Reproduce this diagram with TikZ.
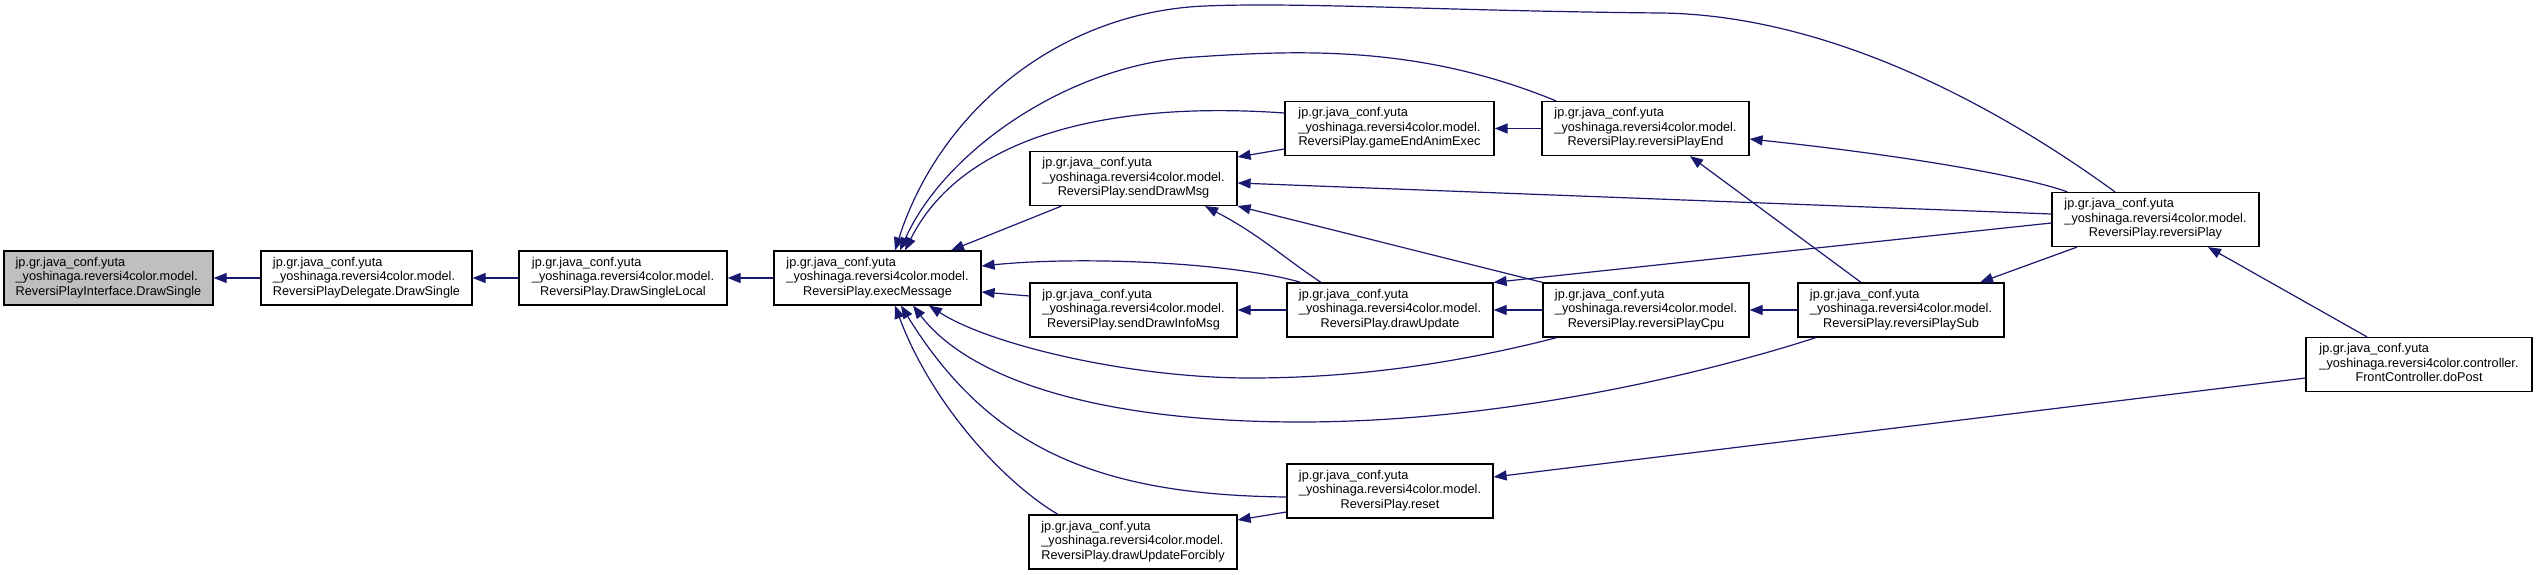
\documentclass[tikz,border=0pt]{standalone}
\usepackage{fontspec}
\setmainfont{Liberation Sans}
\usetikzlibrary{arrows.meta}
\definecolor{edgeblue}{HTML}{191970}
\definecolor{nodegray}{HTML}{BFBFBF}
\newcommand{\dlab}[3]{\begin{tabular}{@{}c@{}}\multicolumn{1}{@{}l@{}}{#1}\\\multicolumn{1}{@{}l@{}}{#2}\\#3\end{tabular}}
\newcommand{\pa}{jp.gr.java\_conf.yuta}
\newcommand{\pb}{\_yoshinaga.reversi4color.model.}
\begin{document}
\begin{tikzpicture}[x=1pt,y=-1pt,
  fn/.style={draw=black, line width=1.2pt, fill=white, rectangle, inner sep=0pt, minimum height=54pt, font=\fontsize{12.7}{14.5}\selectfont},
  cur/.style={fn, fill=nodegray},
  edge/.style={draw=edgeblue, line width=1.2pt, -{Triangle[length=13pt,width=10pt]}}]
\useasboundingbox[fill=white] (0,0) rectangle (2537,575);

\node[cur, minimum width=209pt] (n0) at (108.5,278) {\dlab{\pa}{\pb}{ReversiPlayInterface.DrawSingle}};
\node[fn, minimum width=211pt] (n1) at (366.5,278) {\dlab{\pa}{\pb}{ReversiPlayDelegate.DrawSingle}};
\node[fn, minimum width=208pt] (n2) at (623,278) {\dlab{\pa}{\pb}{ReversiPlay.DrawSingleLocal}};
\node[fn, minimum width=207pt] (exec) at (877.5,278) {\dlab{\pa}{\pb}{ReversiPlay.execMessage}};
\node[fn, minimum width=207pt] (sdm) at (1133.5,178.5) {\dlab{\pa}{\pb}{ReversiPlay.sendDrawMsg}};
\node[fn, minimum width=207pt] (sdim) at (1133.5,310) {\dlab{\pa}{\pb}{ReversiPlay.sendDrawInfoMsg}};
\node[fn, minimum width=208pt] (dufor) at (1133,542) {\dlab{\pa}{\pb}{ReversiPlay.drawUpdateForcibly}};
\node[fn, minimum width=209pt] (geae) at (1389.5,128.5) {\dlab{\pa}{\pb}{ReversiPlay.gameEndAnimExec}};
\node[fn, minimum width=206pt] (du) at (1390,310) {\dlab{\pa}{\pb}{ReversiPlay.drawUpdate}};
\node[fn, minimum width=206pt] (reset) at (1390,491) {\dlab{\pa}{\pb}{ReversiPlay.reset}};
\node[fn, minimum width=207pt] (rpe) at (1645.5,128.5) {\dlab{\pa}{\pb}{ReversiPlay.reversiPlayEnd}};
\node[fn, minimum width=206pt] (rpc) at (1646,310) {\dlab{\pa}{\pb}{ReversiPlay.reversiPlayCpu}};
\node[fn, minimum width=206pt] (rps) at (1901,310) {\dlab{\pa}{\pb}{ReversiPlay.reversiPlaySub}};
\node[fn, minimum width=207pt] (rp) at (2155.5,219.5) {\dlab{\pa}{\pb}{ReversiPlay.reversiPlay}};
\node[fn, minimum width=226pt] (dopost) at (2419,364.5) {\dlab{\pa}{\_yoshinaga.reversi4color.controller.}{FrontController.doPost}};

\draw[edge] (n1.west) -- (n0.east);
\draw[edge] (n2.west) -- (n1.east);
\draw[edge] (exec.west) -- (n2.east);
\draw[edge] ([xshift=32pt]sdm.south west) -- ([xshift=73.5pt]exec.north);
\draw[edge] ([yshift=14pt]sdim.west) -- ([yshift=-14pt]exec.east);
\draw[edge] ([xshift=-89pt]du.north) .. controls (1230,262) and (1080,256) .. ([yshift=12pt]exec.east);
\draw[edge] ([yshift=15.5pt]geae.west) .. controls (1100,100) and (960,140) .. ([xshift=27.5pt]exec.north);
\draw[edge] ([xshift=-89.5pt]rpe.north) .. controls (1420,45) and (1300,50) .. (1195,57) .. controls (1070,64) and (945,150) .. ([xshift=22.5pt]exec.north);
\draw[edge] ([xshift=-40.5pt]rp.north) .. controls (2030,130) and (1850,15) .. (1660,13) .. controls (1450,11) and (1300,2) .. (1205,6) .. controls (1060,12) and (940,110) .. ([xshift=17.5pt]exec.north);
\draw[edge] ([xshift=-89pt]rpc.south) .. controls (1450,365) and (1350,378) .. (1250,378) .. controls (1130,378) and (990,345) .. ([xshift=51.5pt]exec.south);
\draw[edge] ([xshift=-85pt]rps.south) .. controls (1700,375) and (1500,422) .. (1300,422) .. controls (1100,422) and (970,380) .. ([xshift=35.5pt]exec.south);
\draw[edge] ([yshift=-6pt]reset.west) .. controls (1100,495) and (990,450) .. ([xshift=23.5pt]exec.south);
\draw[edge] ([xshift=-75pt]dufor.north) .. controls (1000,480) and (930,400) .. ([xshift=17.5pt]exec.south);

\draw[edge] ([yshift=-20.5pt]geae.west) -- ([yshift=21.5pt]sdm.east);
\draw[edge] ([yshift=5.5pt]rp.west) -- ([yshift=-4.5pt]sdm.east);
\draw[edge] (rpc.north west) -- (sdm.south east);
\draw[edge] ([xshift=-69pt]du.north) .. controls (1280,255) and (1260,235) .. ([xshift=71.5pt]sdm.south);
\draw[edge] (du.west) -- (sdim.east);
\draw[edge] (rpe.west) -- (geae.east);
\draw[edge] (rpc.west) -- (du.east);
\draw[edge] ([yshift=-3.5pt]rp.west) -- (du.north east);
\draw[edge] (rps.west) -- (rpc.east);
\draw[edge] ([xshift=16pt]rp.north west) .. controls (2020,175) and (1900,155) .. ([yshift=-10.5pt]rpe.east);
\draw[edge] ([xshift=-40pt]rps.north) -- ([xshift=44.5pt]rpe.south);
\draw[edge] ([xshift=-78.5pt]rp.south) -- ([xshift=79pt]rps.north);
\draw[edge] ([xshift=-52pt]dopost.north) -- ([xshift=52.5pt]rp.south);
\draw[edge] ([yshift=-13.5pt]dopost.west) -- ([yshift=14pt]reset.east);
\draw[edge] ([yshift=-21pt]reset.west) -- ([yshift=22pt]dufor.east);
\end{tikzpicture}
\end{document}
